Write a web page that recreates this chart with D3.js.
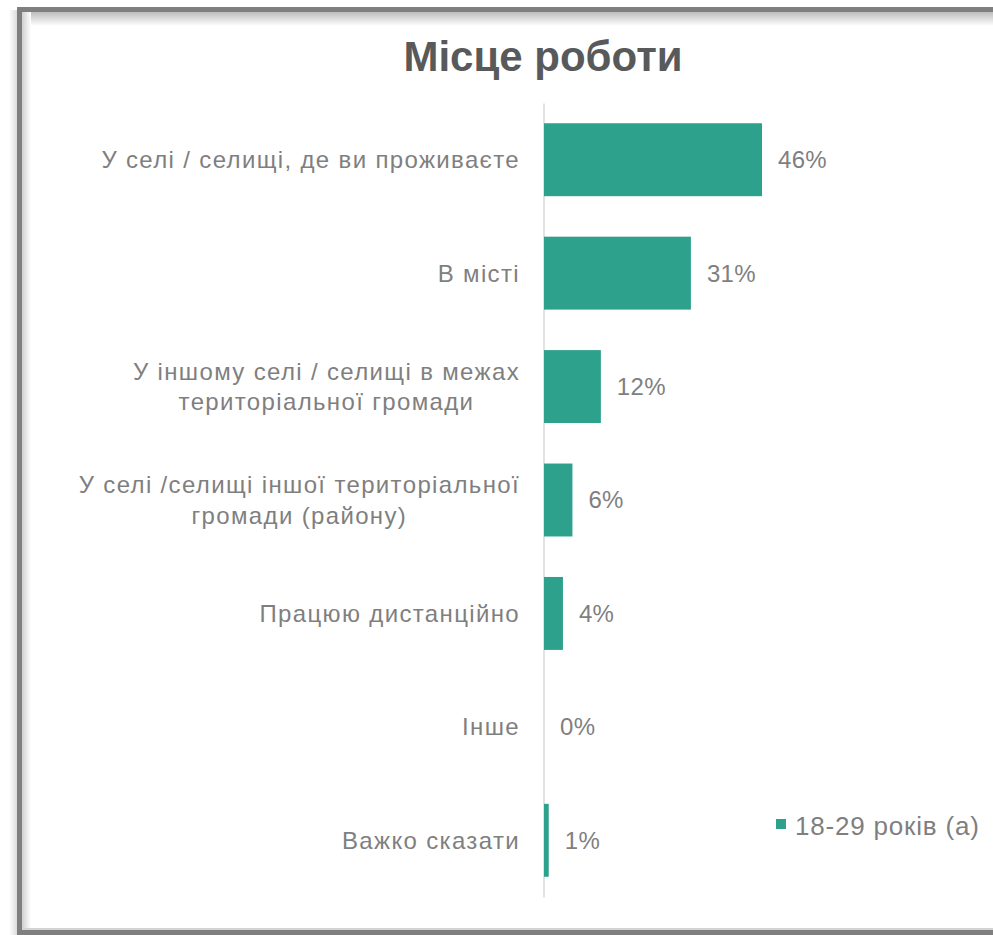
<!DOCTYPE html>
<html>
<head>
<meta charset="utf-8">
<script src="https://cdn.jsdelivr.net/npm/d3@7"></script>
<style>
  html, body { margin: 0; padding: 0; background: #ffffff; }
  svg { display: block; }
  text { font-family: "Liberation Sans", Arial, sans-serif; }
</style>
</head>
<body>
<svg id="chart" width="993" height="935"></svg>
<script>
const titleText = "Місце роботи";
const categories = [
  ["У селі / селищі, де ви проживаєте"],
  ["В місті"],
  ["У іншому селі / селищі в межах", "територіальної громади"],
  ["У селі /селищі іншої територіальної", "громади (району)"],
  ["Працюю дистанційно"],
  ["Інше"],
  ["Важко сказати"]
];
const values = [46, 31, 12, 6, 4, 0, 1];
const valueLabels = ["46%", "31%", "12%", "6%", "4%", "0%", "1%"];
const seriesName = "18-29 років (а)";

const W = 993, H = 935;
const svg = d3.select("#chart");
const defs = svg.append("defs");

// frame shadows
const gTop = defs.append("linearGradient").attr("id", "shTop").attr("x1", 0).attr("y1", 0).attr("x2", 0).attr("y2", 1);
gTop.append("stop").attr("offset", "0%").attr("stop-color", "#bdbdbd");
gTop.append("stop").attr("offset", "100%").attr("stop-color", "#ffffff");
const gLeft = defs.append("linearGradient").attr("id", "shLeft").attr("x1", 0).attr("y1", 0).attr("x2", 1).attr("y2", 0);
gLeft.append("stop").attr("offset", "0%").attr("stop-color", "#d0d0d0");
gLeft.append("stop").attr("offset", "100%").attr("stop-color", "#ffffff");
const gOut = defs.append("linearGradient").attr("id", "shOut").attr("x1", 0).attr("y1", 0).attr("x2", 1).attr("y2", 0);
gOut.append("stop").attr("offset", "0%").attr("stop-color", "#ffffff");
gOut.append("stop").attr("offset", "100%").attr("stop-color", "#dcdcdc");

svg.append("rect").attr("x", 9).attr("y", 10).attr("width", 8).attr("height", 925).attr("fill", "url(#shOut)");
// border
svg.append("rect").attr("x", 17).attr("y", 7).attr("width", 990).attr("height", 5).attr("fill", "#7f7f7f");
svg.append("rect").attr("x", 17).attr("y", 7).attr("width", 5).attr("height", 935).attr("fill", "#7f7f7f");
svg.append("rect").attr("x", 17).attr("y", 930).attr("width", 990).attr("height", 6).attr("fill", "#7f7f7f");
// inner shadow
svg.append("rect").attr("x", 22).attr("y", 12).attr("width", 980).attr("height", 14).attr("fill", "url(#shTop)");
svg.append("rect").attr("x", 22).attr("y", 12).attr("width", 9).attr("height", 918).attr("fill", "url(#shLeft)");
svg.append("rect").attr("x", 22).attr("y", 928).attr("width", 980).attr("height", 2).attr("fill", "#d4d4d4");

// title
svg.append("text")
  .attr("x", 543).attr("y", 71)
  .attr("text-anchor", "middle")
  .attr("font-size", 42).attr("font-weight", "bold")
  .attr("fill", "#58595b")
  .text(titleText);

const idx = d3.range(categories.length);
const x = d3.scaleLinear().domain([0, 46]).range([544, 762]);
const y = d3.scaleBand().domain(idx).range([103, 897]).paddingInner(0.357).paddingOuter(0.1785);

// axis line
const yAxis = d3.axisLeft(y).tickSize(0).tickFormat("");
const ax = svg.append("g").attr("transform", "translate(543.5,0)").call(yAxis);
ax.select(".domain").attr("stroke", "#d9d9d9").attr("stroke-width", 1.5);

// bars
svg.append("g").selectAll("rect").data(idx).join("rect")
  .attr("x", x(0))
  .attr("y", i => y(i))
  .attr("width", i => Math.max(0, x(values[i]) - x(0)))
  .attr("height", y.bandwidth())
  .attr("fill", "#2ea18c");

// value labels
svg.append("g").selectAll("text").data(idx).join("text")
  .attr("x", i => x(values[i]) + 16)
  .attr("y", i => y(i) + y.bandwidth() / 2)
  .attr("dy", "0.35em")
  .attr("font-size", 24)
  .attr("letter-spacing", 0.3)
  .attr("fill", "#7f7f7f")
  .text(i => valueLabels[i]);

// category labels: block right-aligned at 520, lines centred within block
const labelRight = 520;
const cl = svg.append("g").selectAll("text").data(idx).join("text")
  .attr("font-size", 24)
  .attr("letter-spacing", 1.35)
  .attr("fill", "#7f7f7f");
cl.each(function(i) {
  const lines = categories[i];
  const lh = 30.5;
  const cy = y(i) + y.bandwidth() / 2;
  const t = d3.select(this);
  const spans = lines.map((ln, k) => t.append("tspan")
      .attr("y", cy + (k - (lines.length - 1) / 2) * lh)
      .attr("dy", "0.35em")
      .text(ln));
  if (lines.length === 1) {
    t.attr("text-anchor", "end");
    spans[0].attr("x", labelRight);
  } else {
    const widths = spans.map(s => s.node().getComputedTextLength());
    const maxW = d3.max(widths);
    const cx = labelRight - maxW / 2;
    t.attr("text-anchor", "middle");
    spans.forEach(s => s.attr("x", cx));
  }
});

// legend
const lg = svg.append("g");
lg.append("rect").attr("x", 776).attr("y", 819).attr("width", 10).attr("height", 10).attr("fill", "#2ea18c");
lg.append("text").attr("x", 795).attr("y", 835).attr("font-size", 26).attr("letter-spacing", 0.8).attr("fill", "#7f7f7f").text(seriesName);
</script>
</body>
</html>
